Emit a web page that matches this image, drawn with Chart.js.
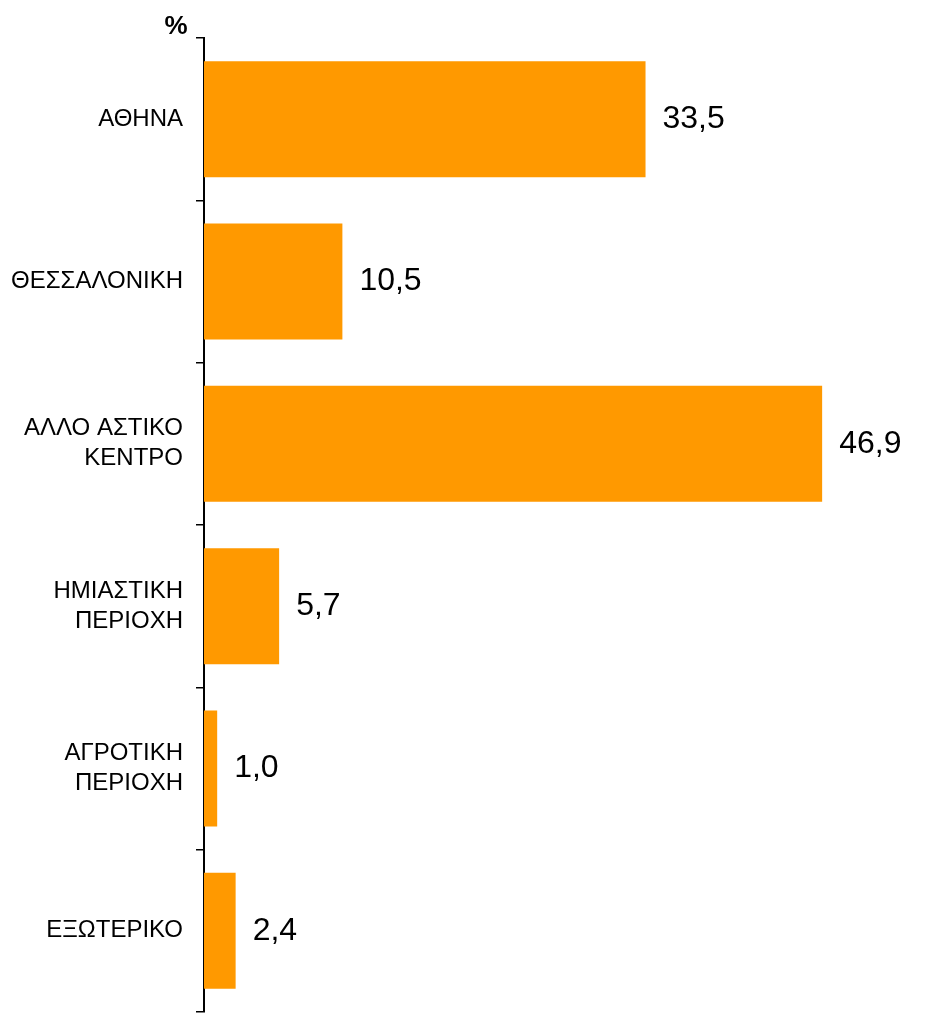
<!DOCTYPE html>
<html>
<head>
<meta charset="utf-8">
<script src="https://cdn.jsdelivr.net/npm/chart.js@4"></script>
<style>
  html, body { margin: 0; padding: 0; background: #fff; }
  #wrap { width: 938px; height: 1015px; }
</style>
</head>
<body>
<div id="wrap"><canvas id="areaChart" width="938" height="1015"></canvas></div>
<script>
// categories and values
const categories = [
    'ΑΘΗΝΑ',
    'ΘΕΣΣΑΛΟΝΙΚΗ',
    ['ΑΛΛΟ ΑΣΤΙΚΟ', 'ΚΕΝΤΡΟ'],
    ['ΗΜΙΑΣΤΙΚΗ', 'ΠΕΡΙΟΧΗ'],
    ['ΑΓΡΟΤΙΚΗ', 'ΠΕΡΙΟΧΗ'],
    'ΕΞΩΤΕΡΙΚΟ'
];
const shares = [33.5, 10.5, 46.9, 5.7, 1.0, 2.4];
const unitLabel = '%';

const FONT = '"Liberation Sans", Arial, sans-serif';

// Category names, value labels and the unit label
const textLayer = {
    id: 'textLayer',
    afterDraw(chart) {
        const ctx = chart.ctx;
        const yScale = chart.scales.y;
        const meta = chart.getDatasetMeta(0);
        ctx.save();
        ctx.fillStyle = '#000';
        ctx.textBaseline = 'middle';

        // category labels, right aligned left of the axis
        ctx.font = '24px ' + FONT;
        ctx.textAlign = 'right';
        const lineH = 30;
        categories.forEach(function(lbl, i) {
            const lines = Array.isArray(lbl) ? lbl : [lbl];
            const yc = yScale.getPixelForTick(i);
            const y0 = yc - (lines.length - 1) * lineH / 2;
            lines.forEach(function(line, j) {
                ctx.fillText(line, 183, y0 + j * lineH);
            });
        });

        // values at the end of each bar (decimal comma)
        ctx.font = '32px ' + FONT;
        ctx.textAlign = 'left';
        meta.data.forEach(function(bar, i) {
            const txt = shares[i].toFixed(1).replace('.', ',');
            ctx.fillText(txt, bar.x + 17, bar.y);
        });

        // unit label above the axis
        ctx.font = 'bold 26px ' + FONT;
        ctx.textAlign = 'center';
        ctx.fillText(unitLabel, 176, 27);
        ctx.restore();
    }
};

const ctx = document.getElementById('areaChart').getContext('2d');
const areaChart = new Chart(ctx, {
    type: 'bar',
    data: {
        labels: categories,
        datasets: [{
            data: shares,
            backgroundColor: '#FF9900',
            borderWidth: 0,
            barPercentage: 0.715,
            categoryPercentage: 1.0
        }]
    },
    options: {
        indexAxis: 'y',
        responsive: false,
        animation: false,
        layout: {
            padding: { top: 38, bottom: 3, left: 0, right: 75 }
        },
        plugins: {
            legend: { display: false },
            tooltip: { enabled: false }
        },
        scales: {
            x: {
                display: false,
                min: 0,
                max: 50
            },
            y: {
                afterFit: function(scale) { scale.width = 204; },
                border: { display: true, color: '#000', width: 2 },
                grid: {
                    offset: true,
                    drawOnChartArea: false,
                    drawTicks: true,
                    tickLength: 8,
                    color: '#000',
                    lineWidth: 1.5
                },
                ticks: { display: false }
            }
        }
    },
    plugins: [textLayer]
});
</script>
</body>
</html>
